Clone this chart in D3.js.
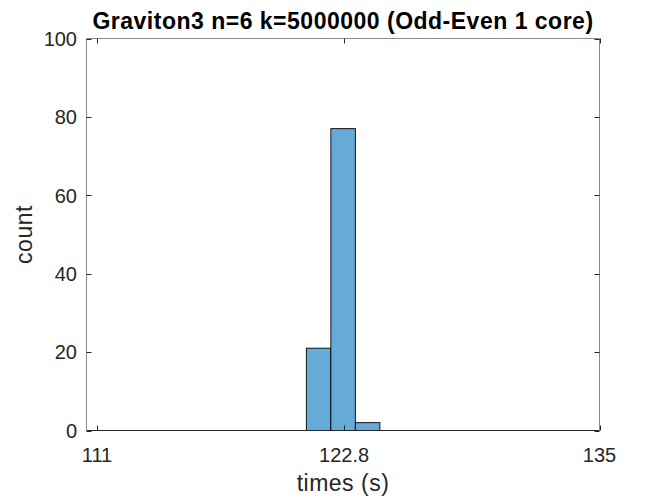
<!DOCTYPE html>
<html>
<head>
<meta charset="utf-8">
<script src="https://cdn.jsdelivr.net/npm/d3@7"></script>
<style>
  body { margin: 0; background: #fff; }
  text { font-family: "Liberation Sans", Arial, Helvetica, sans-serif; fill: #262626; }
</style>
</head>
<body>
<script>
const WIDTH = 664;
const HEIGHT = 499;
const LEFT = 86.5, RIGHT = 599.5, TOP = 38.5, BOTTOM = 430.5;
const TICK_LEN = 5;

// Histogram data.
const BIN_EDGES = [121.0, 122.17, 123.34, 124.51];
const BIN_COUNTS = [21, 77, 2];
const X_DOMAIN = [110.5, 135];
const X_TICKS = [111, 122.8, 135];
const Y_TICKS = [0, 20, 40, 60, 80, 100];
const TITLE = 'Graviton3 n=6 k=5000000 (Odd-Even 1 core)';
const X_LABEL = 'times (s)';
const Y_LABEL = 'count';

var svg = d3.select('body')
    .append('svg')
    .attr('width', WIDTH)
    .attr('height', HEIGHT);

var x = d3.scaleLinear().domain(X_DOMAIN).range([LEFT, RIGHT]);
var y = d3.scaleLinear().domain([0, 100]).range([BOTTOM, TOP]);

var bins = BIN_COUNTS.map((c, i) => ({ x0: BIN_EDGES[i], x1: BIN_EDGES[i + 1], count: c }));

// Bars.
svg.selectAll('.bar')
    .data(bins)
    .enter()
    .append('rect')
    .attr('class', 'bar')
    .attr('x', d => x(d.x0))
    .attr('y', d => y(d.count))
    .attr('width', d => x(d.x1) - x(d.x0))
    .attr('height', d => y(0) - y(d.count))
    .style('fill', '#66aad7')
    .style('stroke', '#000')
    .style('stroke-width', 0.9);

// Box (left / top / right are lighter, like the matlab export).
svg.append('path')
    .attr('d', `M${LEFT},${BOTTOM}V${TOP}H${RIGHT}V${BOTTOM}`)
    .style('fill', 'none')
    .style('stroke', '#8a8a8a')
    .style('stroke-width', 1);
svg.append('line')
    .attr('x1', LEFT).attr('x2', RIGHT)
    .attr('y1', BOTTOM).attr('y2', BOTTOM)
    .style('stroke', '#262626')
    .style('stroke-width', 1);

// Ticks pointing inside, on all four sides.
var xt = svg.append('g');
X_TICKS.forEach(t => {
    let px = Math.round(x(t)) + 0.5;
    xt.append('line').attr('x1', px).attr('x2', px)
        .attr('y1', BOTTOM).attr('y2', BOTTOM - TICK_LEN)
        .style('stroke', '#262626');
    xt.append('line').attr('x1', px).attr('x2', px)
        .attr('y1', TOP).attr('y2', TOP + TICK_LEN)
        .style('stroke', '#262626');
    xt.append('text')
        .attr('x', x(t))
        .attr('y', 462)
        .attr('text-anchor', 'middle')
        .style('font-size', '20px')
        .text(d3.format('~g')(t));
});

var yt = svg.append('g');
Y_TICKS.forEach(t => {
    let py = Math.round(y(t)) + 0.5;
    yt.append('line').attr('x1', LEFT).attr('x2', LEFT + TICK_LEN)
        .attr('y1', py).attr('y2', py)
        .style('stroke', '#262626');
    yt.append('line').attr('x1', RIGHT).attr('x2', RIGHT - TICK_LEN)
        .attr('y1', py).attr('y2', py)
        .style('stroke', '#262626');
    yt.append('text')
        .attr('x', 77)
        .attr('y', y(t))
        .attr('dy', '0.36em')
        .attr('text-anchor', 'end')
        .style('font-size', '20px')
        .text(t);
});

// Title and axis labels (slightly spaced out, the export is wider than arial).
svg.append('text')
    .attr('x', (LEFT + RIGHT) / 2)
    .attr('y', 28.5)
    .attr('text-anchor', 'middle')
    .style('font-size', '23px')
    .style('letter-spacing', '0.5px')
    .style('font-weight', 'bold')
    .style('fill', '#000')
    .text(TITLE);

svg.append('text')
    .attr('x', (LEFT + RIGHT) / 2)
    .attr('y', 491)
    .attr('text-anchor', 'middle')
    .style('font-size', '23px')
    .style('letter-spacing', '0.5px')
    .text(X_LABEL);

svg.append('text')
    .attr('transform', `translate(32,${(TOP + BOTTOM) / 2}) rotate(-90)`)
    .attr('text-anchor', 'middle')
    .style('font-size', '23px')
    .style('letter-spacing', '0.5px')
    .text(Y_LABEL);
</script>
</body>
</html>
